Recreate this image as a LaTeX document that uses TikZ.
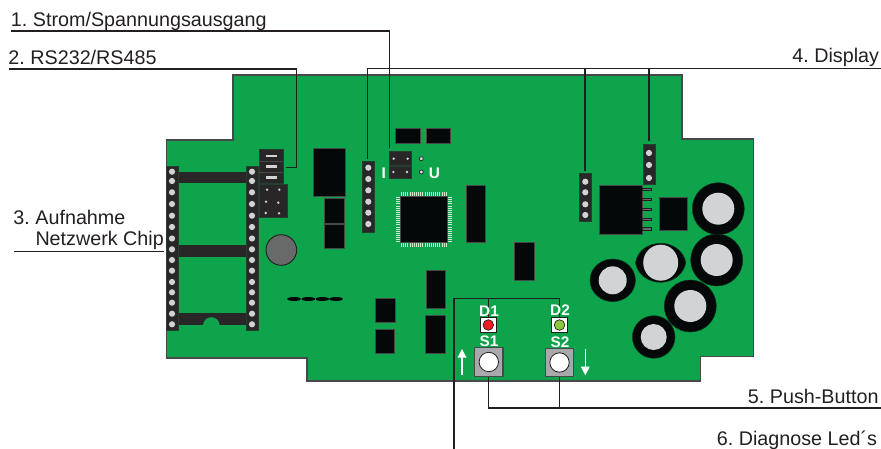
\documentclass[tikz,border=0pt]{standalone}
\usepackage{fontspec}
\setmainfont{Liberation Sans}
\usetikzlibrary{arrows.meta}
\frenchspacing
\definecolor{boardgreen}{RGB}{14,164,75}
\definecolor{edgegrey}{RGB}{70,72,74}
\definecolor{chipblack}{RGB}{4,8,9}
\definecolor{stripgrey}{RGB}{41,38,39}
\definecolor{pingrey}{RGB}{209,211,212}
\definecolor{leadgrey}{RGB}{35,31,32}
\definecolor{btngrey}{RGB}{167,169,172}
\definecolor{fringe}{RGB}{205,235,215}
\tikzset{every picture/.style={line width=0.75pt}}
\tikzset{
  chip/.style={fill=chipblack,draw=edgegrey,line width=0.6pt},
  strip/.style={fill=stripgrey,draw=stripgrey!80!boardgreen,line width=0.5pt},
  pinhole/.style={fill=pingrey},
  capring/.style={fill=chipblack,draw=chipblack!70!boardgreen,line width=0.4pt},
  leader/.style={draw=leadgrey,line width=1pt},
  caption/.style={inner sep=0pt,anchor=base west,text=leadgrey,font=\fontsize{14.8}{17}\selectfont},
  captionr/.style={caption,anchor=base east},
  onboard/.style={inner sep=0pt,text=white,font=\fontsize{11.5}{13}\selectfont\bfseries},
  ledbox/.style={fill=white,draw=leadgrey,line width=0.6pt,minimum width=12pt,minimum height=11.6pt,inner sep=0pt},
  btnbox/.style={fill=btngrey,draw=edgegrey,line width=0.9pt,minimum size=21.3pt,inner sep=0pt},
}

\begin{document}
\begin{tikzpicture}[x=0.75pt,y=0.75pt,yscale=-1,xscale=1]
\useasboundingbox (0,0) rectangle (881,449);

%Board
\draw [fill=boardgreen,draw=edgegrey,line width=0.8pt] (233,75) -- (682,75) -- (682,139) -- (753.7,139) -- (753.7,356.7) -- (700.5,356.7) -- (700.5,381) -- (307,381) -- (307,358) -- (166.5,358) -- (166.5,140) -- (233,140) -- cycle;

%Socket for the network chip
\fill [stripgrey] (178,172) rectangle (246,183);
\fill [stripgrey] (178,245) rectangle (246,256.7);
\fill [stripgrey] (178,313.3) rectangle (246,325);
\fill [boardgreen] (203,325.5) arc (180:360:8.3) -- cycle;
\draw [strip] (166.3,166) rectangle (178.3,330.7);
\draw [strip] (246,166) rectangle (258,330.7);
\foreach \py in {171.7,181,192.3,204,215.7,227,238.5,249.3,260,270.7,282,292.3,302.7,313.7,324.3} {
  \fill [pinhole] (172,\py) circle (3.1);
  \fill [pinhole] (252,\py) circle (3.1);
}

%Jumpers left
\draw [strip] (259,149.3) rectangle (283.3,183.3);
\draw [edgegrey,line width=0.4pt] (259,161) -- (283.3,161) (259,172) -- (283.3,172);
\foreach \py in {156,166.7,177.3} \fill [pingrey] (266,\py-1.2) rectangle (277,\py+1.2);
\draw [strip] (259,184.7) rectangle (287.7,217.7);
\foreach \px/\py in {267/189.7,279.3/189.7,266/201.7,278.3/202.7,265.7/213,279/213.3} \fill [pinhole] (\px,\py) circle (1.3);

%Grey round part
\draw [fill=black!50!pingrey,draw=leadgrey,line width=0.7pt] (281.3,250) circle (15.3);

%Chips
\draw [chip] (313.3,148.7) rectangle (345,196);
\draw [chip] (324.3,198.7) rectangle (344,223);
\draw [chip] (324.3,224.7) rectangle (344,248.7);
\draw [chip] (395.3,128) rectangle (420,143.3);
\draw [chip] (426.3,128) rectangle (450.7,143.3);
\draw [chip] (466,185) rectangle (485.3,242.5);
\draw [chip] (514.7,242.7) rectangle (534,280.7);
\draw [chip] (426,270) rectangle (445.3,308.3);
\draw [chip] (425.7,315.7) rectangle (445,353.3);
\draw [chip] (375.7,298.3) rectangle (395,322);
\draw [chip] (375.3,329) rectangle (394.7,353);
\draw [chip] (599.3,185) rectangle (642,234.3);
\draw [chip] (659,197) rectangle (687.7,230);

%Legs of the regulator
\foreach \py in {189.3,199.3,209.3,219.3,228.7} \draw [fill=black!50!pingrey,draw=leadgrey,line width=0.4pt] (642,\py-1.2) rectangle (651,\py+1.2);

%Flat chip with fringe
\foreach \pp in {0,...,21} {
  \draw [fringe,line width=0.6pt] (401.5+2.13*\pp,192) -- (401.5+2.13*\pp,247);
  \draw [fringe,line width=0.6pt] (396,197.5+2.1*\pp) -- (451.5,197.5+2.1*\pp);
}
\draw [chip] (400.3,196) rectangle (447.3,242.7);

%Small ovals
\foreach \px in {294,308.3,322.3,336} \fill [chipblack] (\px,299) ellipse (6.8 and 2);

%Pin headers
\draw [strip] (362.3,161) rectangle (374.3,232);
\foreach \py in {167.7,179,190.3,201.7,212.7,224} \fill [pinhole] (368.3,\py) circle (3.1);
\draw [strip] (579.3,173.3) rectangle (591.3,221.7);
\foreach \py in {181.7,192.3,204.3,215} \fill [pinhole] (585.3,\py) circle (3.1);
\draw [strip] (643,144.7) rectangle (655,184.7);
\foreach \py in {153,165,178} \fill [pinhole] (649,\py) circle (3.1);

%Jumper I/U
\draw [strip] (389,151.7) rectangle (411.7,165.3);
\draw [strip] (389,166) rectangle (411.7,178.7);
\foreach \px/\py in {393.7/158.7,407.7/158.7,393.3/172,407/172} \fill [pinhole] (\px,\py) circle (1.3);
\foreach \py in {158.7,172} \draw [fill=pingrey,draw=leadgrey,line width=0.5pt] (421.3,\py) circle (2);

%Capacitors
\draw [capring] (718.3,208.7) circle (26);
\fill [pinhole] (718.3,208.7) circle (16);
\draw [capring] (716.7,260) circle (26);
\fill [pinhole] (716.7,260) circle (16);
\draw [capring] (690.3,306) circle (26);
\fill [pinhole] (690.3,306) circle (16);
\draw [capring] (653.7,337) circle (21.3);
\fill [pinhole] (653.7,337) circle (13);
\draw [capring] (612.7,280.3) ellipse (22.7 and 21.3);
\fill [pinhole] (612.7,280.3) circle (14);
\draw [capring] (635.5,262.7) .. controls (637.5,250) and (649,243.3) .. (660.7,243.3) .. controls (672,243.3) and (683.5,250) .. (685.8,262.7) .. controls (683.5,275) and (672,282.3) .. (660.7,282.3) .. controls (649,282.3) and (637.5,275) .. (635.5,262.7) -- cycle;
\fill [pinhole] (660.7,262.7) ellipse (17.5 and 18);

%LEDs and buttons
\node (ledOne) [ledbox] at (488.3,325) {};
\node (ledTwo) [ledbox] at (559.5,325) {};
\draw [fill={rgb, 255:red, 237; green, 28; blue, 36 },draw=leadgrey,line width=0.5pt] (ledOne.center) circle (5.3);
\draw [fill={rgb, 255:red, 141; green, 198; blue, 63 },draw=leadgrey,line width=0.5pt] (ledTwo.center) circle (5.3);
\node (btnOne) [btnbox] at (488.8,362) {};
\node (btnTwo) [btnbox] at (559.5,362.5) {};
\draw [fill=white,draw=leadgrey,line width=0.6pt] (btnOne.center) circle (9.7);
\draw [fill=white,draw=leadgrey,line width=0.6pt] (btnTwo.center) circle (9.7);

%Arrows next to the buttons
\coordinate (upFoot) at (462,375);
\coordinate (upTip) at (462,349);
\coordinate (downFoot) at (585.3,348.7);
\coordinate (downTip) at (585.3,375.3);
\draw [white,line width=0.9pt,-{Triangle[width=6.5pt,length=6.5pt]}] (upFoot) -- (upTip);
\draw [white,line width=0.9pt,-{Triangle[width=6.5pt,length=6.5pt]}] (downFoot) -- (downTip);

%Leader lines
\coordinate (stromStart) at (11,31);
\coordinate (stromEnd) at (389.3,148);
\coordinate (rsStart) at (9,69);
\coordinate (rsCorner) at (296.7,69);
\coordinate (rsEnd) at (286,167.3);
\coordinate (chipStart) at (14,251.7);
\coordinate (chipEnd) at (164,251.7);
\coordinate (dispStart) at (881,68.3);
\coordinate (dispEnd) at (367.7,159);
\coordinate (dispMid) at (585,170.7);
\coordinate (dispRight) at (649,140.7);
\coordinate (pushStart) at (881,408);
\coordinate (diagStart) at (454,449);
\coordinate (diagCorner) at (454,298.3);
\draw [leader] (stromStart) -| (stromEnd);
\draw [leader] (rsStart) -- (rsCorner) |- (rsEnd);
\draw [leader] (chipStart) -- (chipEnd);
\draw [leader] (dispStart) -| (dispEnd);
\draw [leader] (dispMid |- dispStart) -- (dispMid);
\draw [leader] (dispRight |- dispStart) -- (dispRight);
\draw [leader] (pushStart) -| (btnOne.south);
\draw [leader] (btnTwo.south) -- (btnTwo.south |- pushStart);
\draw [leader] (diagStart) -- (diagCorner) -| (ledTwo.north);
\draw [leader] (ledOne.north) -- (ledOne.north |- diagCorner);

% Text Node
\node (capStrom) [caption] at (10.5,26.7) {1. Strom/Spannungsausgang};
% Text Node
\node (capRs) [caption] at (8,65) {2. RS232/RS485};
% Text Node
\node (capChipA) [caption] at (13,224) {3. Aufnahme};
% Text Node
\node (capChipB) [caption] at (35,245.7) {Netzwerk Chip};
% Text Node
\node (capDisp) [captionr] at (879.5,62.7) {4. Display};
% Text Node
\node (capPush) [captionr] at (879,403) {5. Push-Button};
% Text Node
\node (capDiag) [captionr] at (877.5,445) {6. Diagnose Led´s};
% Text Node
\node (txtI) [onboard] at (383.7,173.7) {I};
% Text Node
\node (txtU) [onboard] at (434.3,173.7) {U};
% Text Node
\node (txtDOne) [onboard] at (489,311) {D1};
% Text Node
\node (txtDTwo) [onboard] at (560,310) {D2};
% Text Node
\node (txtSOne) [onboard] at (489,341) {S1};
% Text Node
\node (txtSTwo) [onboard] at (560,342) {S2};

\end{tikzpicture}
\end{document}
